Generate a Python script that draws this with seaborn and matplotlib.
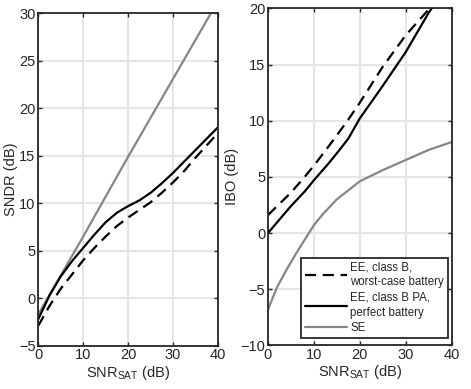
import numpy as np
import pandas as pd
import matplotlib
matplotlib.use("Agg")
import matplotlib.pyplot as plt
import seaborn as sns

# ---- data ----
snr_l = [0, 2.5, 5, 7.5, 10, 12.5, 15, 17.5, 20, 22.5, 25, 27.5, 30, 32.5, 35, 37.5, 40]
sndr_worst = [-2.9, -0.8, 1.0, 2.5, 4.0, 5.3, 6.5, 7.6, 8.5, 9.3, 10.1, 11.1, 12.2, 13.4, 14.8, 16.1, 17.4]
sndr_perfect = [-2.2, 0.3, 2.3, 3.9, 5.3, 6.7, 8.0, 9.0, 9.7, 10.3, 11.1, 12.1, 13.2, 14.4, 15.6, 16.8, 18.0]
snr_se_l = [0, 10, 20, 30, 40]
sndr_se = [-1.7, 6.5, 14.9, 23.1, 31.3]

snr_r = [0, 5, 8, 10, 13, 15, 17.5, 20, 25, 30, 35, 36]
ibo_worst = [1.6, 3.6, 5.0, 6.0, 7.6, 8.7, 10.1, 11.6, 14.8, 17.6, 19.9, 20.4]
ibo_perfect = [0.0, 2.4, 3.7, 4.7, 6.1, 7.1, 8.4, 10.2, 13.1, 16.1, 19.6, 20.2]
snr_se_r = [0, 2, 4, 6, 8, 10, 12, 15, 20, 25, 30, 35, 40]
ibo_se = [-6.8, -4.8, -3.3, -1.9, -0.6, 0.7, 1.7, 3.0, 4.6, 5.6, 6.5, 7.4, 8.1]

labels = ["EE, class B,\nworst-case battery", "EE, class B PA,\nperfect battery", "SE"]
xticks = [0, 10, 20, 30, 40]
yticks_l = [-5, 0, 5, 10, 15, 20, 25, 30]
yticks_r = [-10, -5, 0, 5, 10, 15, 20]

sns.set_theme(style="whitegrid")
plt.rcParams["font.family"] = ["Liberation Sans", "DejaVu Sans"]
plt.rcParams["mathtext.fontset"] = "custom"
plt.rcParams["mathtext.rm"] = "Liberation Sans"
plt.rcParams["mathtext.it"] = "Liberation Sans:italic"
plt.rcParams["mathtext.bf"] = "Liberation Sans:bold"

fig = plt.figure(figsize=(4.71, 3.89), dpi=100)
axL = fig.add_axes([0.0813, 0.1113, 0.3815, 0.8545])
axR = fig.add_axes([0.569, 0.1123, 0.3896, 0.866])

dark = "#262626"
gray = "#868686"
lw = 1.6

def style(ax, yticks, ylim, ylabel):
    ax.set_facecolor("white")
    ax.set_xlim(0, 40)
    ax.set_ylim(*ylim)
    ax.set_xticks(xticks)
    ax.set_yticks(yticks)
    ax.grid(True, color="#e3e3e3", linewidth=1.3)
    ax.set_axisbelow(True)
    for s in ax.spines.values():
        s.set_color(dark)
        s.set_linewidth(1.3)
        s.set_visible(True)
    ax.tick_params(direction="in", length=3, width=1.0, color=dark,
                   top=True, right=True, bottom=True, left=True,
                   labelsize=10.5, labelcolor=dark, pad=2)
    ax.set_xlabel(r"SNR$_{\mathrm{SAT}}$ (dB)", fontsize=10.5, color=dark, labelpad=1)
    ax.set_ylabel(ylabel, fontsize=10.5, color=dark, labelpad=1)

dfL1 = pd.DataFrame({"x": snr_l, "y": sndr_worst})
dfL2 = pd.DataFrame({"x": snr_l, "y": sndr_perfect})
dfL3 = pd.DataFrame({"x": snr_se_l, "y": sndr_se})
sns.lineplot(data=dfL3, x="x", y="y", ax=axL, color=gray, linewidth=lw)
sns.lineplot(data=dfL1, x="x", y="y", ax=axL, color="black", linewidth=lw)
axL.lines[-1].set_dashes([5, 3])
sns.lineplot(data=dfL2, x="x", y="y", ax=axL, color="black", linewidth=lw)
style(axL, yticks_l, (-5, 30), "SNDR (dB)")

dfR1 = pd.DataFrame({"x": snr_r, "y": ibo_worst})
dfR2 = pd.DataFrame({"x": snr_r, "y": ibo_perfect})
dfR3 = pd.DataFrame({"x": snr_se_r, "y": ibo_se})
sns.lineplot(data=dfR1, x="x", y="y", ax=axR, color="black", linewidth=lw, label=labels[0])
axR.lines[-1].set_dashes([5, 3])
sns.lineplot(data=dfR2, x="x", y="y", ax=axR, color="black", linewidth=lw, label=labels[1])
sns.lineplot(data=dfR3, x="x", y="y", ax=axR, color=gray, linewidth=lw, label=labels[2])
style(axR, yticks_r, (-10, 20), "IBO (dB)")

leg = axR.legend(loc="lower right", fontsize=8.3, frameon=True, fancybox=False,
                 handlelength=3.6, handletextpad=0.3, borderpad=0.35,
                 labelspacing=0.3, borderaxespad=0,
                 bbox_to_anchor=(448 / 471, 1 - 338 / 389),
                 bbox_transform=fig.transFigure)
leg.get_frame().set_edgecolor(dark)
leg.get_frame().set_linewidth(1.3)
leg.get_frame().set_alpha(1)
for t in leg.get_texts():
    t.set_color(dark)
    t.set_linespacing(1.3)

fig.savefig("out.png", dpi=100, facecolor="white")
